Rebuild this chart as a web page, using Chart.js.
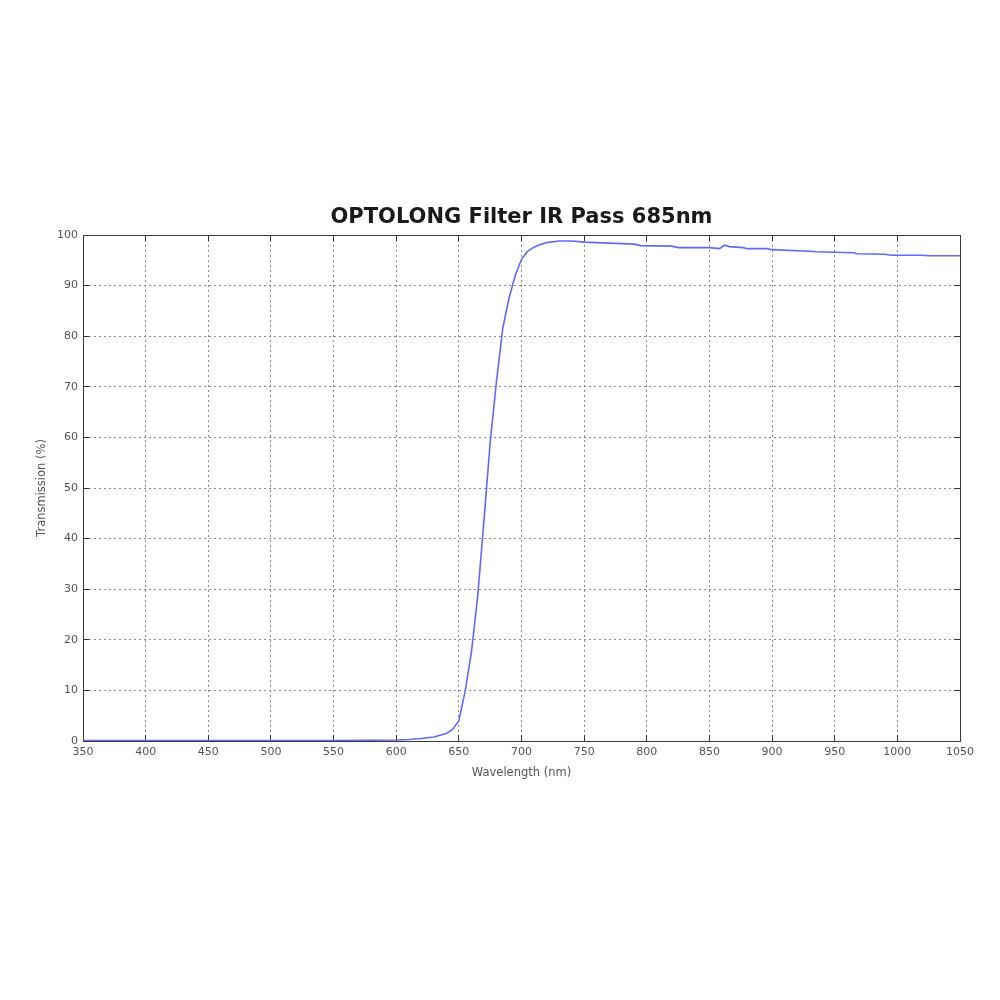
<!DOCTYPE html>
<html>
<head>
<meta charset="utf-8">
<script src="https://cdn.jsdelivr.net/npm/chart.js@4.4.1/dist/chart.umd.min.js"></script>
<style>
  html, body { margin: 0; padding: 0; background: #fff; }
  #wrap { width: 1000px; height: 1000px; }
</style>
</head>
<body>
<div id="wrap"><canvas id="irpass" width="1000" height="1000"></canvas></div>
<script>
// wavelength (nm) and transmission (%)
const wavelength = [350, 400, 450, 500, 550, 600, 610, 620, 630, 640, 645, 650, 655, 660, 665, 670, 675, 680, 685, 690, 695, 700, 705, 710, 715, 720, 730, 740, 750, 790, 795, 820, 825, 850, 858, 862, 866, 877, 880, 896, 900, 930, 935, 965, 968, 990, 995, 1020, 1025, 1050];
const transmission = [0.1, 0.1, 0.1, 0.1, 0.1, 0.2, 0.3, 0.5, 0.8, 1.5, 2.3, 4.0, 9.8, 17.5, 28.5, 43.5, 59, 71, 81.5, 87.5, 92, 95.2, 96.8, 97.6, 98.1, 98.5, 98.8, 98.8, 98.6, 98.2, 97.9, 97.8, 97.5, 97.5, 97.3, 98.0, 97.7, 97.5, 97.3, 97.3, 97.1, 96.8, 96.7, 96.5, 96.3, 96.2, 96.0, 96.0, 95.9, 95.9];

const xTicks = [350, 400, 450, 500, 550, 600, 650, 700, 750, 800, 850, 900, 950, 1000, 1050];
const yTicks = [0, 10, 20, 30, 40, 50, 60, 70, 80, 90, 100];

const chartTitle = 'OPTOLONG Filter IR Pass 685nm';
const xTitle = 'Wavelength (nm)';
const yTitle = 'Transmission (%)';

const points = wavelength.map((w, i) => ({ x: w, y: transmission[i] }));

const labelFont = { family: 'DejaVu Sans', size: 11 };
const gridDotted = { color: '#8a8a8a', tickLength: -6, tickColor: '#333', tickWidth: 1 };
const boxBorder = { display: true, color: '#3a3a3a', width: 1, dash: [2, 3] };
const plainNum = v => String(v);  // no thousands separator

const ctx = document.getElementById('irpass').getContext('2d');

const irChart = new Chart(ctx, {
    type: 'scatter',
    data: {
        datasets: [{
            data: points,
            showLine: true,
            borderColor: 'rgb(95, 105, 255)',
            borderWidth: 1.6,
            pointRadius: 0,
            tension: 0
        }]
    },
    options: {
        responsive: false,
        animation: false,
        layout: { padding: { top: 150, bottom: 210, left: 20, right: 20 } },
        plugins: {
            legend: { display: false },
            tooltip: { enabled: false }
        },
        scales: {
            x: {
                type: 'linear',
                position: 'bottom',
                min: 350, max: 1050,
                afterBuildTicks: s => { s.ticks = xTicks.map(v => ({ value: v })); },
                afterFit: s => { s.height = 49; },
                grid: gridDotted,
                border: boxBorder,
                ticks: { font: labelFont, color: '#555', padding: 11, maxRotation: 0, autoSkip: false, callback: plainNum },
                title: { display: true, text: xTitle, font: { family: 'DejaVu Sans', size: 11.5 }, color: '#555', padding: { top: 0, bottom: 10 } }
            },
            x2: {
                type: 'linear',
                position: 'top',
                min: 350, max: 1050,
                afterBuildTicks: s => { s.ticks = xTicks.map(v => ({ value: v })); },
                afterFit: s => { s.height = 85; },
                grid: { drawOnChartArea: false, tickLength: -6, tickColor: '#333' },
                border: { display: true, color: '#3a3a3a', width: 1 },
                ticks: { display: false },
                title: { display: true, text: chartTitle, font: { family: 'DejaVu Sans', size: 21, weight: 'bold' }, color: '#1a1a1a', padding: { top: 55, bottom: 0 } }
            },
            y: {
                type: 'linear',
                position: 'left',
                min: 0, max: 100,
                afterBuildTicks: s => { s.ticks = yTicks.map(v => ({ value: v })); },
                afterFit: s => { s.width = 63; },
                grid: gridDotted,
                border: boxBorder,
                ticks: { font: labelFont, color: '#555', padding: 11, callback: plainNum },
                title: { display: true, text: yTitle, font: { family: 'DejaVu Sans', size: 11.5 }, color: '#555', padding: { top: 15, bottom: 0 } }
            },
            y2: {
                type: 'linear',
                position: 'right',
                min: 0, max: 100,
                afterBuildTicks: s => { s.ticks = yTicks.map(v => ({ value: v })); },
                afterFit: s => { s.width = 20; },
                grid: { drawOnChartArea: false, tickLength: -6, tickColor: '#333' },
                border: { display: true, color: '#3a3a3a', width: 1 },
                ticks: { display: false }
            }
        }
    }
});
</script>
</body>
</html>
